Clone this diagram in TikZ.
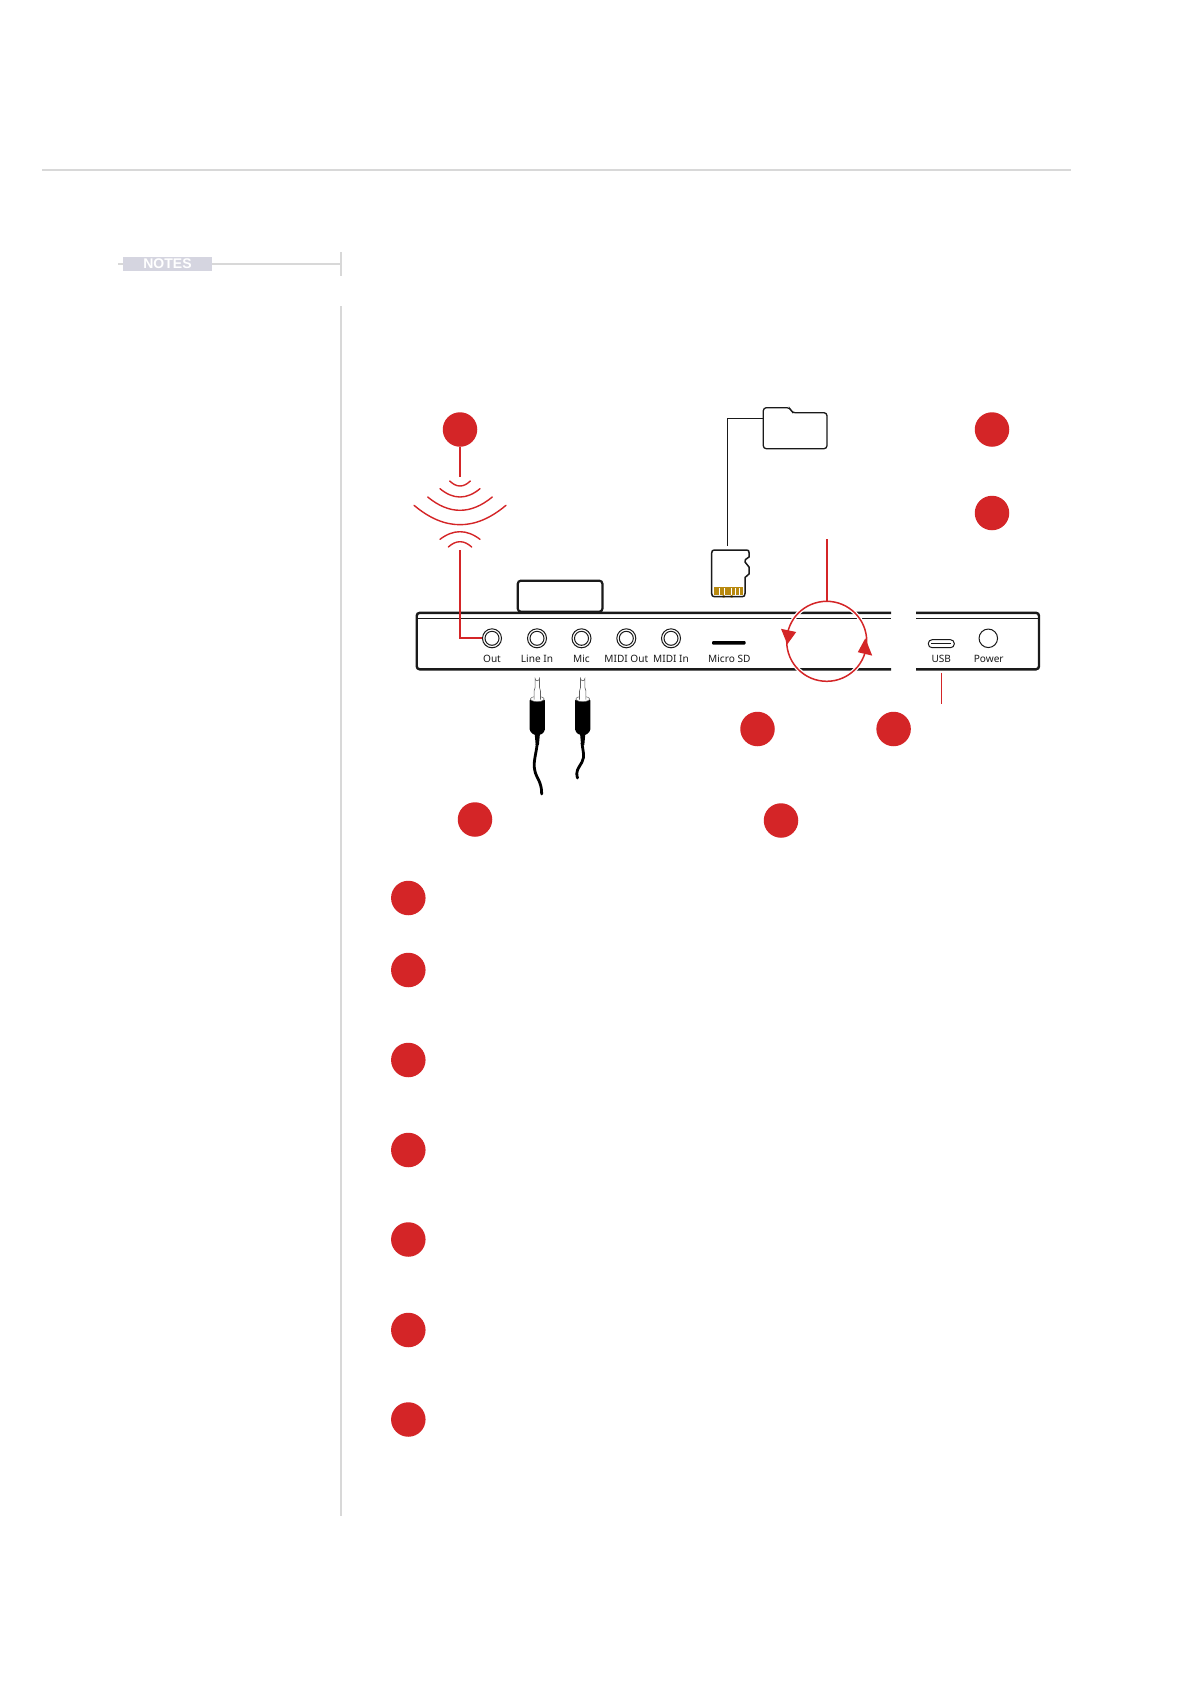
\documentclass[tikz,border=0pt]{standalone}
\usepackage{fontspec}
\setmainfont{Noto Sans}
\newfontfamily\notesfont{Liberation Sans}
\definecolor{rd}{HTML}{D42527}
\definecolor{rule}{HTML}{D8D8D8}
\definecolor{tag}{HTML}{D5D5E0}
\definecolor{gold}{HTML}{B8890F}
\definecolor{ink}{HTML}{1A1A1A}
\tikzset{
  badge/.style={circle,fill=rd,minimum size=34.5pt,inner sep=0pt},
  rl/.style={draw=rd,line width=1.7pt},
  wavel/.style={draw=rd,line width=1.4pt,line cap=round},
  jackport/.style={circle,draw=ink,line width=1pt,minimum size=19pt,inner sep=0pt},
  portin/.style={circle,draw=ink,line width=1pt,minimum size=14pt,inner sep=0pt},
  lab/.style={font=\fontsize{10.1}{12}\selectfont,text=ink,inner sep=0pt,anchor=center},
  panel/.style={draw=ink,line width=2.4pt,rounded corners=3pt},
  outl/.style={draw=ink,line width=1.3pt,rounded corners=3pt,fill=white},
  cable/.style={draw=black,line width=2.8pt,line cap=round},
  plugmetal/.style={draw=ink!70,line width=.6pt,fill=white},
  plugbody/.style={fill=black,rounded corners=1.5pt},
  graybar/.style={draw=rule,line width=1.6pt}
}
\newcommand{\wavearc}[4]{% half width, end y, mid y, centre x
  \draw[wavel] ({#4-#1},#2) .. controls ({#4-#1/3},{#2+4/3*(#3-#2)}) and ({#4+#1/3},{#2+4/3*(#3-#2)}) .. ({#4+#1},#2);}
\newcommand{\plugshape}[1]{%
  \begin{scope}[shift={(#1,0)}]
    \fill[plugbody] (-7.6,699) -- (7.6,699) -- (7.6,731) -- (3.4,735) -- (-3.4,735) -- (-7.6,731) -- cycle;
    \fill[white,draw=ink!70,line width=.5pt] (0,699) ellipse[x radius=6.8,y radius=2.6];
    \path[plugmetal] (-3.2,699.5) -- (-3.2,691) -- (-2.2,687.5) -- (-2.2,678.5) arc[start angle=180,end angle=0,radius=2.2] -- (2.2,687.5) -- (3.2,691) -- (3.2,699.5);
    \fill[black] (-2.6,734) -- (2.6,734) -- (1.6,745) -- (-1.6,745) -- cycle;
  \end{scope}}
\begin{document}
\begin{tikzpicture}[x=1pt,y=-1pt]
\useasboundingbox (0,0) rectangle (1191,1684);
\fill[white] (0,0) rectangle (1191,1684);
% page furniture
\coordinate (rA) at (42,170); \coordinate (rB) at (1071,170);
\draw[graybar] (rA) -- (rB);
\coordinate (vA) at (340.7,306); \coordinate (vB) at (340.7,1516);
\draw[graybar] (vA) -- (vB);
\coordinate (tA) at (340.7,252); \coordinate (tB) at (340.7,276);
\draw[graybar] (tA) -- (tB);
\coordinate (nA) at (118,263.7);
\draw[graybar] (nA) -- (tA |- nA);
\node[fill=tag,minimum width=89pt,minimum height=14pt,inner sep=0pt,text=white,font=\notesfont\bfseries\fontsize{14}{14}\selectfont] (notes) at (167.5,264) {NOTES};
% panel
\node[outl,line width=2.2pt,minimum width=84.6pt,minimum height=31pt,inner sep=0pt,anchor=south west] (box) at (516.7,612.8) {};
\fill[white] (416.7,612.3) rectangle (891,669.3);
\draw[panel] (891,612.8) -- (416.7,612.8) -- (416.7,669.3) -- (891,669.3);
\draw[panel] (916,612.8) -- (1039,612.8) -- (1039,669.3) -- (916,669.3);
\draw[draw=ink,line width=.9pt] (418,618.7) -- (891,618.7) (916,618.7) -- (1038,618.7);
% ports
\foreach \n/\x/\t in {out/492/Out,line/537/Line In,mic/581.5/Mic,mo/626.3/MIDI Out,mi/671/MIDI In}{
  \node[jackport] (p\n) at (\x,638.3) {};
  \node[portin] at (p\n) {};
  \node[lab] (l\n) at (\x,658.5) {\t};
}
\node[fill=black,minimum width=33.5pt,minimum height=3.6pt,inner sep=0pt,rounded corners=1pt] (sdslot) at (728.8,642.8) {};
\node[lab] (lsd) at (729.3,658.5) {Micro SD};
\node[draw=ink,line width=1pt,rounded corners=3.8pt,minimum width=26pt,minimum height=8pt,inner sep=0pt] (usb) at (941.3,643.7) {};
\draw[ink,line width=.8pt] (usb.center) ++(-10,0) -- ++(20,0);
\node[lab] (lusb) at (941.3,658.5) {USB};
\node[circle,draw=ink,line width=1pt,minimum size=18.5pt,inner sep=0pt] (pow) at (988.3,638.3) {};
\node[lab] (lpow) at (988.7,658.5) {Power};
% badges
\foreach \n/\x/\y in {a/460/429.5,b/992/429.5,c/992/513,d/757.5/729,e/893.6/729,f/475/819.5,g/781/820.5,
  h/408.3/898,i/408.3/970,j/408.3/1060,k/408.3/1150,l/408.3/1239.5,m/408.3/1330,n/408.3/1419.5}{
  \node[badge] (\n) at (\x,\y) {};
}
% signal
\coordinate (w1) at (460,477);
\draw[rl] (a) -- (w1);
\wavearc{10.3}{481}{486}{460}
\wavearc{20}{488.7}{497}{460}
\wavearc{32.3}{497}{510.3}{460}
\wavearc{46}{505.3}{524.7}{460}
\wavearc{20}{539.3}{531.7}{460}
\wavearc{11.7}{547}{541.7}{460}
\coordinate (w2) at (460,550);
\draw[rl] (w2) |- (pout);
% folder
\draw[outl] (763.3,448.7) -- (763.3,407.7) -- (790,407.7) -- (792,412.7) -- (827,412.7) -- (827,448.7) -- cycle;
\coordinate (fold) at (763.3,418.3);
\coordinate (sdtop) at (727.3,546);
\draw[draw=ink,line width=1pt] (fold) -| (sdtop);
% micro sd card
\fill[gold] (714,587) rectangle (742.5,595);
\fill[gold] (722.5,595) rectangle (724.5,597.5) (730.5,595) rectangle (732.5,597.5);
\foreach \x in {719,724,731,734.5,738.5}{
  \fill[white] (\x,588) rectangle ++(.9,7);
}
\draw[draw=ink,line width=1.5pt,line join=round] (714.5,550) -- (746.5,550) .. controls (748.5,550) and (749,551) .. (749,552.5) -- (749,557) -- (745.5,559.5) -- (745,562) -- (747,564.5) -- (749,567) -- (749,574) -- (745,577.5) -- (745,593.5) .. controls (745,596) and (744,596.7) .. (742,596.7) -- (714.5,596.7) .. controls (712.5,596.7) and (711.7,595.5) .. (711.7,593.5) -- (711.7,553) .. controls (711.7,551) and (712.5,550) .. (714.5,550) -- cycle;
% rotary ring
\node[circle,draw=white,line width=4pt,minimum size=80pt,inner sep=0pt] (ringw) at (826.7,641.3) {};
\node[circle,draw=rd,line width=1.5pt,minimum size=80pt,inner sep=0pt] (ring) at (826.7,641.3) {};
\coordinate (rt) at (826.7,539.3);
\draw[rl] (rt) -- (ring.north);
\fill[rd] (781,628.8) -- (796.2,632) -- (787.3,644.3) -- cycle;
\fill[rd] (857.8,652.2) -- (872.2,655.6) -- (865.3,638.3) -- cycle;
% usb leader
\coordinate (ul1) at (941.3,672.5); \coordinate (ul2) at (941.3,704);
\draw[draw=rd,line width=.9pt] (ul1) -- (ul2);
% plugs
\plugshape{537.3}
\plugshape{582.7}
\draw[cable] (537.3,743) .. controls (536,755) and (533,762) .. (534.7,770) .. controls (536,778) and (541.7,781) .. (541.7,794);
\draw[cable] (582,743) .. controls (583,752) and (585,756) .. (582,762) .. controls (578,769) and (575.5,771) .. (577.5,778);
\end{tikzpicture}
\end{document}
